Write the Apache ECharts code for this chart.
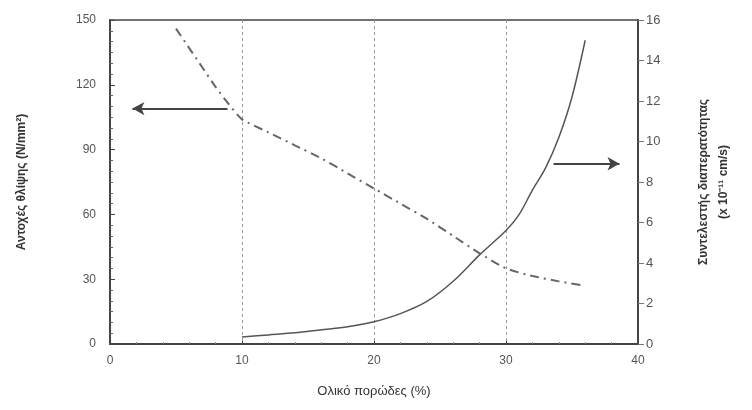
<!DOCTYPE html>
<html>
<head>
    <meta charset="utf-8">
    <title>Porosity chart</title>
    <script src="https://cdn.jsdelivr.net/npm/echarts@6/dist/echarts.min.js"></script>
</head>
<body style="margin:0;background:#fff;">
<div id="main" style="width:752px;height:410px;"></div>
<script type="text/javascript">
    // porosity (%) for each curve
    var strengthX = [5, 6, 7, 8, 9, 10, 12, 14, 16, 18, 20, 22, 24, 26, 28, 30, 32, 34, 36];
    var strengthY = [146, 137, 128, 119, 111, 104, 98, 92, 86, 79, 72, 65, 58, 50, 42, 35, 31.5, 29, 27];
    var permX = [10, 12, 14, 16, 18, 20, 22, 24, 26, 28, 30, 31, 32, 33, 34, 35, 36];
    var permY = [0.35, 0.45, 0.55, 0.7, 0.85, 1.1, 1.5, 2.1, 3.1, 4.4, 5.6, 6.4, 7.6, 8.7, 10.2, 12.2, 15];

    // arrows: [fromX, toX, y]
    var leftArrow = [8.9, 1.7, 109];
    var rightArrow = [33.6, 38.6, 8.9];

    var pairs = function (xs, ys) {
        var out = [];
        for (var i = 0; i < xs.length; i++) out.push([xs[i], ys[i]]);
        return out;
    };

    var chart = echarts.init(document.getElementById('main'));
    var txt = '#555';
    var axisCol = '#444';
    var font = 'Liberation Sans, Arial, sans-serif';

    var option = {
        backgroundColor: '#fff',
        animation: false,
        textStyle: {fontFamily: font},
        grid: {
            left: 110, right: 114, top: 20, bottom: 66,
            show: true, borderColor: axisCol, borderWidth: 1.5
        },
        xAxis: {
            type: 'value', min: 0, max: 40, interval: 10,
            name: 'Ολικό πορώδες (%)', nameLocation: 'middle', nameGap: 41,
            nameTextStyle: {color: '#333', fontSize: 13, fontFamily: font},
            axisLine: {show: true, lineStyle: {color: axisCol, width: 2}},
            axisTick: {show: true, inside: true, length: 3, lineStyle: {color: axisCol}},
            minorTick: {show: true, splitNumber: 5, length: 2, lineStyle: {color: '#888'}},
            axisLabel: {color: txt, fontSize: 12, margin: 11},
            splitLine: {show: true, lineStyle: {color: '#999', type: [3, 3], width: 1}}
        },
        yAxis: [
            {
                type: 'value', min: 0, max: 150, interval: 30,
                name: 'Αντοχές θλίψης (N/mm²)', nameLocation: 'middle', nameGap: 82, nameRotate: 90,
                nameTextStyle: {color: '#333', fontSize: 12, fontWeight: 'bold', fontFamily: font},
                axisLine: {show: true, lineStyle: {color: axisCol, width: 2}},
                axisTick: {show: true, inside: true, length: 5, lineStyle: {color: axisCol}},
                minorTick: {show: true, splitNumber: 6, length: 3, lineStyle: {color: '#666'}},
                axisLabel: {color: txt, fontSize: 12, margin: 14},
                splitLine: {show: false}
            },
            {
                type: 'value', min: 0, max: 16, interval: 2, position: 'right',
                name: 'Συντελεστής διαπερατότητας\n(x 10⁻¹¹ cm/s)', nameLocation: 'middle', nameGap: 56, nameRotate: 90,
                nameTextStyle: {color: '#333', fontSize: 12, fontWeight: 'bold', lineHeight: 20, fontFamily: font},
                axisLine: {show: true, lineStyle: {color: axisCol, width: 2}},
                axisTick: {show: true, length: 6, lineStyle: {color: '#777'}},
                axisLabel: {color: txt, fontSize: 13, margin: 8},
                splitLine: {show: false}
            }
        ],
        series: [
            {
                name: 'strength', type: 'line', yAxisIndex: 0,
                data: pairs(strengthX, strengthY),
                showSymbol: false, smooth: 0.2,
                lineStyle: {color: '#666', width: 2, type: [9, 5, 2, 5]},
                markLine: {
                    silent: true, symbol: ['none', 'arrow'], symbolSize: [10, 12],
                    label: {show: false},
                    lineStyle: {color: '#444', width: 2, type: 'solid'},
                    data: [[{coord: [leftArrow[0], leftArrow[2]]}, {coord: [leftArrow[1], leftArrow[2]]}]]
                }
            },
            {
                name: 'permeability', type: 'line', yAxisIndex: 1,
                data: pairs(permX, permY),
                showSymbol: false, smooth: 0.3,
                lineStyle: {color: '#555', width: 1.5},
                markLine: {
                    silent: true, symbol: ['none', 'arrow'], symbolSize: [10, 12],
                    label: {show: false},
                    lineStyle: {color: '#444', width: 2, type: 'solid'},
                    data: [[{coord: [rightArrow[0], rightArrow[2]]}, {coord: [rightArrow[1], rightArrow[2]]}]]
                }
            }
        ]
    };
    chart.setOption(option);
</script>
</body>
</html>
